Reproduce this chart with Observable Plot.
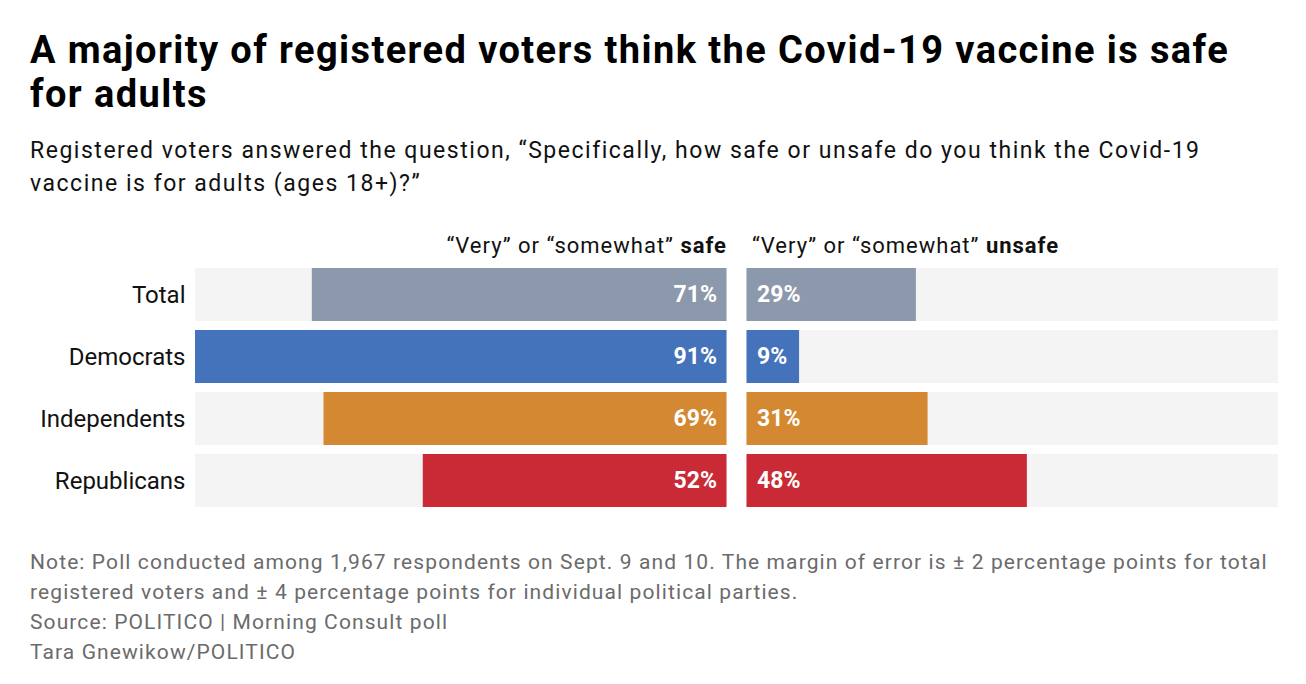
<!DOCTYPE html>
<html>
<head>
<meta charset="utf-8">
<script src="https://cdn.jsdelivr.net/npm/d3@7"></script>
<script src="https://cdn.jsdelivr.net/npm/@observablehq/plot@0.6"></script>
<style>
  html, body { margin: 0; padding: 0; background: #fff; }
  body { width: 1306px; height: 684px; overflow: hidden; font-family: Roboto, "Noto Sans", sans-serif; position: relative; }
  #title { position: absolute; left: 30px; top: 28px; width: 1270px; font-size: 38px; font-weight: 700; line-height: 44px; color: #000; letter-spacing: 1.4px; white-space: nowrap; }
  #subtitle { position: absolute; left: 30px; top: 135px; width: 1230px; font-size: 23px; line-height: 32.5px; color: #111; letter-spacing: 1.52px; }
  .hdr { position: absolute; top: 233px; font-size: 22px; line-height: normal; color: #111; white-space: nowrap; letter-spacing: 1px; }
  #hdrL { right: 579px; }
  #hdrR { left: 752px; }
  #chart { position: absolute; left: 0; top: 268px; }
  #notes { position: absolute; left: 30px; top: 547px; width: 1260px; font-size: 21px; line-height: 30px; color: #6b6b6b; letter-spacing: 1.1px; }
</style>
</head>
<body>
<div id="title">A majority of registered voters think the Covid-19 vaccine is safe<br>for adults</div>
<div id="subtitle">Registered voters answered the question, “Specifically, how safe or unsafe do you think the Covid-19 vaccine is for adults (ages 18+)?”</div>
<div class="hdr" id="hdrL">“Very” or “somewhat” <b>safe</b></div>
<div class="hdr" id="hdrR">“Very” or “somewhat” <b>unsafe</b></div>
<div id="chart"></div>
<div id="notes">
  <div>Note: Poll conducted among 1,967 respondents on Sept. 9 and 10. The margin of error is ± 2 percentage points for total registered voters and ± 4 percentage points for individual political parties.</div>
  <div>Source: POLITICO | Morning Consult poll</div>
  <div>Tara Gnewikow/POLITICO</div>
</div>
<script>
const groups = ["Total", "Democrats", "Independents", "Republicans"];
const safe = [71, 91, 69, 52];
const unsafe = [29, 9, 31, 48];
const colors = ["#8c98ab", "#4472bb", "#d38831", "#c92a35"];

const maxVal = d3.max(safe.concat(unsafe));
const rows = groups.map((g, i) => ({group: g, safe: safe[i], unsafe: unsafe[i], color: colors[i]}));

const chart = Plot.plot({
  width: 1306,
  height: 240,
  marginLeft: 205,
  marginRight: 38,
  marginTop: 0,
  marginBottom: 0,
  style: {fontFamily: "Roboto, 'Noto Sans', sans-serif", overflow: "visible"},
  x: {domain: [-maxVal, maxVal], axis: null},
  y: {domain: groups, paddingInner: 0.145, paddingOuter: 0, label: null},
  marks: [
    Plot.axisY({tickSize: 0, tickPadding: 20, fontSize: 24, fill: "#111", label: null}),
    Plot.barX(rows, {x1: -maxVal, x2: 0, y: "group", fill: "#f4f4f4", dx: -10}),
    Plot.barX(rows, {x1: 0, x2: maxVal, y: "group", fill: "#f4f4f4", dx: 10}),
    Plot.barX(rows, {x1: d => -d.safe, x2: 0, y: "group", fill: d => d.color, dx: -10}),
    Plot.barX(rows, {x1: 0, x2: d => d.unsafe, y: "group", fill: d => d.color, dx: 10}),
    Plot.text(rows, {x: 0, y: "group", text: d => d.safe + "%", dx: -20, textAnchor: "end", fill: "white", fontSize: 23, fontWeight: 700, style: "letter-spacing:0.6px"}),
    Plot.text(rows, {x: 0, y: "group", text: d => d.unsafe + "%", dx: 20, textAnchor: "start", fill: "white", fontSize: 23, fontWeight: 700, style: "letter-spacing:0.6px"})
  ]
});
document.getElementById("chart").appendChild(chart);
</script>
</body>
</html>
